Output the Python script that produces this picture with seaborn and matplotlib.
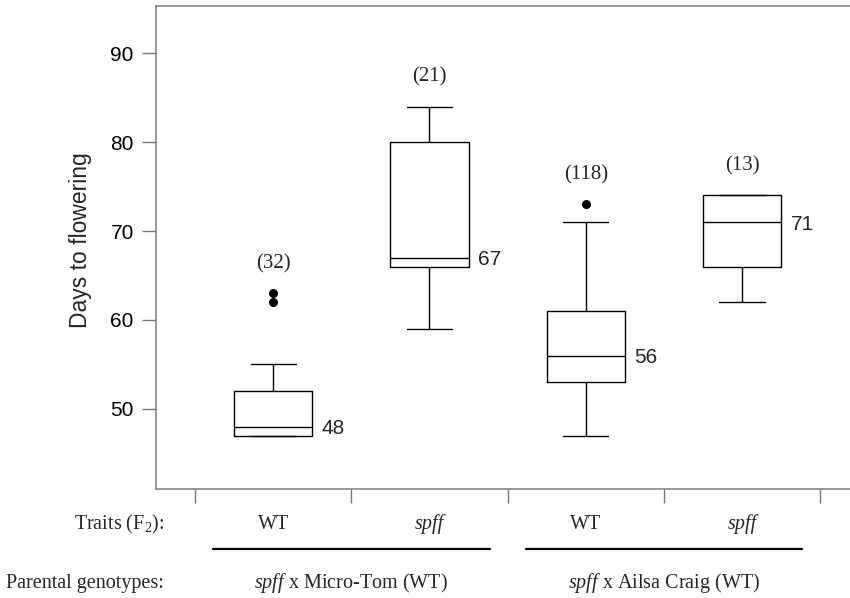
import numpy as np
import pandas as pd
import matplotlib
matplotlib.use("Agg")
import matplotlib.pyplot as plt
import seaborn as sns
from matplotlib.transforms import blended_transform_factory

# ---------------- data ----------------
groups = ["MT_WT", "MT_spff", "AC_WT", "AC_spff"]
traits = ["WT", "spff", "WT", "spff"]
parental = [r"$\mathit{spff}$ x Micro-Tom (WT)", r"$\mathit{spff}$ x Ailsa Craig (WT)"]
counts = [32, 21, 118, 13]
whisker_low = [47, 59, 47, 62]
q1 = [47, 66, 53, 66]
medians = [48, 67, 56, 71]
q3 = [52, 80, 61, 74]
whisker_high = [55, 84, 71, 74]
outlier_group = ["MT_WT", "MT_WT", "AC_WT"]
outlier_days = [62, 63, 73]
y_ticks = [50, 60, 70, 80, 90]

# ---------------- style ----------------
sns.set_style("ticks")
plt.rcParams["font.family"] = ["Liberation Sans", "DejaVu Sans"]
plt.rcParams["mathtext.fontset"] = "custom"
plt.rcParams["mathtext.rm"] = "Liberation Serif"
plt.rcParams["mathtext.it"] = "Liberation Serif:italic"
SERIF = ["Liberation Serif", "DejaVu Serif"]
SPINE = "#7a7a7a"

rows = []
for g, lo, a, m, b, hi in zip(groups, whisker_low, q1, medians, q3, whisker_high):
    for v in (lo, a, m, b, hi):
        rows.append({"group": g, "days": v})
df = pd.DataFrame(rows)

W, H = 850, 598
fig = plt.figure(figsize=(W / 100, H / 100), dpi=100)
ax_left, ax_right, ax_top, ax_bottom = 156, 860, 6, 489
ax = fig.add_axes([ax_left / W, 1 - ax_bottom / H,
                   (ax_right - ax_left) / W, (ax_bottom - ax_top) / H])

box_w = 0.5
sns.boxplot(data=df, x="group", y="days", order=groups, whis=(0, 100),
            width=box_w, fill=False, color="black", linewidth=1.0,
            showfliers=False, ax=ax, capwidths=0.29)
sns.stripplot(x=outlier_group, y=outlier_days, order=groups, jitter=False,
              color="black", size=6.5, linewidth=0, ax=ax)

ax.set_xlim(-0.75, 3.755)
ax.set_ylim(41.0, 95.3)
ax.set_yticks(y_ticks)
ax.set_yticklabels([str(t) for t in y_ticks])
ax.set_xticks(np.arange(-0.5, len(groups), 1.0))
ax.set_xticklabels([])
ax.set_xlabel("")

for s in ["top", "left", "bottom"]:
    ax.spines[s].set_color(SPINE)
    ax.spines[s].set_linewidth(1.1)
ax.spines["right"].set_visible(False)
ax.tick_params(axis="both", direction="out", length=10, width=1.0,
               color=SPINE, labelsize=15, pad=6, labelcolor="black")

ax.set_ylabel("Days to flowering", fontsize=16.5)
ax.yaxis.set_label_coords((92 - ax_left) / (ax_right - ax_left), 0.515)

# sample sizes above each box
for i, g in enumerate(groups):
    pts = [v for og, v in zip(outlier_group, outlier_days) if og == g]
    top = max([whisker_high[i]] + pts)
    ax.annotate(f"({counts[i]})", (i, top), xytext=(0, 21),
                textcoords="offset points", ha="center", va="center",
                family=SERIF, fontsize=15)

# median values
for i, m in enumerate(medians):
    ax.annotate(str(m), (i + box_w / 2, m), xytext=(7, 0),
                textcoords="offset points", ha="left",
                va="center_baseline", fontsize=15)

# bottom annotation rows
trans = blended_transform_factory(ax.transData, fig.transFigure)
y_traits = 1 - 529 / H
y_line = 1 - 549 / H
y_par = 1 - 588 / H
fig.text(164 / W, y_traits, r"Traits (F$_\mathregular{2}$):", ha="right",
         va="baseline", family=SERIF, fontsize=14.5)
for i, t in enumerate(traits):
    ax.text(i, y_traits, t, transform=trans, ha="center", va="baseline",
            family=SERIF, fontsize=14.5,
            style="italic" if t == "spff" else "normal")
fig.text(164 / W, y_par, "Parental genotypes:", ha="right", va="baseline",
         family=SERIF, fontsize=14.5)
for k, lab in enumerate(parental):
    c = 2 * k + 0.5
    ax.plot([c - 0.885, c + 0.885], [y_line, y_line], transform=trans,
            clip_on=False, color="black", linewidth=1.6)
    ax.text(c, y_par, lab, transform=trans, ha="center", va="baseline",
            family=SERIF, fontsize=14.5)

fig.savefig("out.png", dpi=100)
